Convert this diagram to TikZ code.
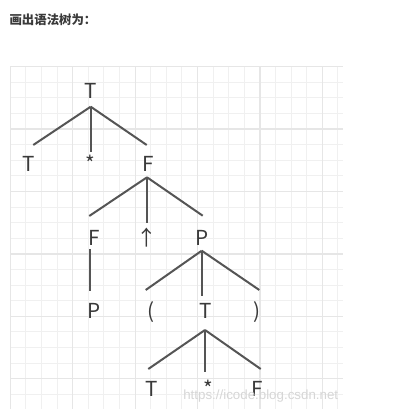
\documentclass[tikz,border=0pt]{standalone}
\usepackage{fontspec}
\newfontfamily\cjk{Noto Sans CJK SC}
\newfontfamily\wm{Liberation Sans}
\definecolor{gminor}{HTML}{F0F0F0}
\definecolor{gmajor}{HTML}{E6E6E6}
\definecolor{edgec}{HTML}{555555}
\definecolor{txtc}{HTML}{3A3A3A}
\definecolor{wmc}{HTML}{D6D6D6}
\tikzset{
  sym/.style={anchor=base, inner sep=0pt, text=txtc, font=\cjk\fontsize{15.5pt}{18pt}\selectfont},
  edge/.style={draw=edgec, line width=1.5pt},
  minorline/.style={draw=gminor, line width=0.75pt},
  majorline/.style={draw=gmajor, line width=0.9pt}
}
\begin{document}
\begin{tikzpicture}[x=0.75pt, y=-0.75pt]
\useasboundingbox (0,0) rectangle (404,409);
\fill[white] (0,0) rectangle (404,409);
% grid
\foreach \k in {0,...,21} {
  \draw[minorline] ({10.3+\k*15.6},66.7) -- ({10.3+\k*15.6},409);
  \draw[minorline] (10.3,{66.7+\k*15.6}) -- (343,{66.7+\k*15.6});
}
\foreach \k in {0,4,...,20} {
  \draw[majorline] ({10.3+\k*15.6},66.7) -- ({10.3+\k*15.6},409);
  \draw[majorline] (10.3,{66.7+\k*15.6}) -- (343,{66.7+\k*15.6});
}
% title
\node[anchor=base west, inner sep=0pt, text=txtc, font=\cjk\bfseries\fontsize{9.3pt}{11pt}\selectfont] (title) at (9.3,25) {画出语法树为：};
% tree labels
\node[sym] (r) at (90.7,99) {T};
\node[sym] (a1) at (29,171.5) {T};
\node[sym] (a2) at (90.5,171.5) {*};
\node[sym] (a3) at (148,171.5) {F};
\node[sym] (b1) at (94,245) {F};
\node[sym] (b2) at (147,245) {↑};
\node[sym] (b3) at (202,245) {P};
\node[sym] (c0) at (94,318.5) {P};
\node[sym] (c1) at (150.7,318.5) {(};
\node[sym] (c2) at (205.8,318.5) {T};
\node[sym] (c3) at (256.7,318.5) {)};
\node[sym] (d1) at (151.3,396) {T};
\node[sym] (d2) at (208.8,396) {*};
\node[sym] (d3) at (257.5,396) {F};
% connector end points
\coordinate (rA) at (90.7,106.7);
\coordinate (a1E) at (33.3,145);
\coordinate (a2E) at (90.7,152.3);
\coordinate (a3E) at (146.7,145);
\coordinate (a3A) at (147,177.3);
\coordinate (b1E) at (89.3,216);
\coordinate (b2E) at (147,222.7);
\coordinate (b3E) at (202.7,215.7);
\coordinate (b1A) at (90,249.3);
\coordinate (c0E) at (90,290.7);
\coordinate (b3A) at (201.7,250.7);
\coordinate (c1E) at (145.7,290);
\coordinate (c2E) at (201.7,296);
\coordinate (c3E) at (259.3,290);
\coordinate (c2A) at (205,330);
\coordinate (d1E) at (148.3,369);
\coordinate (d2E) at (205,371.7);
\coordinate (d3E) at (260.7,369);
% connectors
\draw[edge] (rA) -- (a1E);
\draw[edge] (rA) -- (a2E);
\draw[edge] (rA) -- (a3E);
\draw[edge] (a3A) -- (b1E);
\draw[edge] (a3A) -- (b2E);
\draw[edge] (a3A) -- (b3E);
\draw[edge] (b1A) -- (c0E);
\draw[edge] (b3A) -- (c1E);
\draw[edge] (b3A) -- (c2E);
\draw[edge] (b3A) -- (c3E);
\draw[edge] (c2A) -- (d1E);
\draw[edge] (c2A) -- (d2E);
\draw[edge] (c2A) -- (d3E);
% watermark
\node[anchor=base west, inner sep=0pt, text=wmc, font=\wm\fontsize{10pt}{12pt}\selectfont] (wmark) at (183,399) {https://icode.blog.csdn.net};
\end{tikzpicture}
\end{document}
